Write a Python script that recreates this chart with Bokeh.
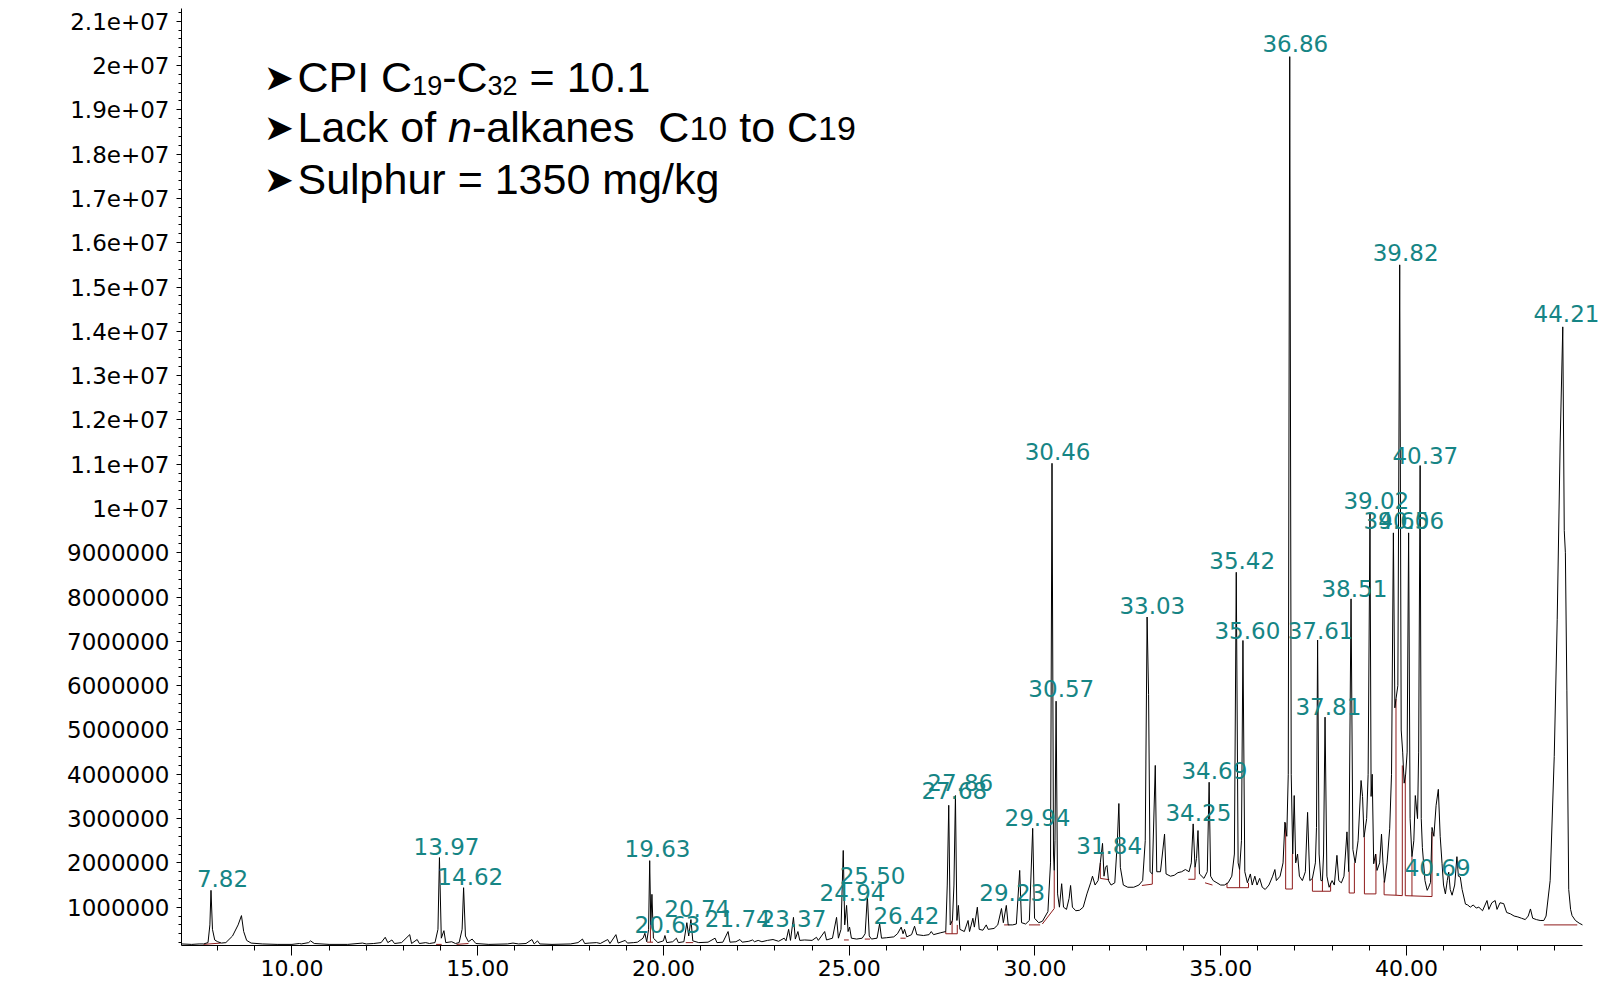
import numpy as np
from bokeh.plotting import figure
from bokeh.models import Range1d, FixedTicker, Label
from bokeh.core.properties import value
from bokeh.embed import file_html
from bokeh.resources import INLINE

# ---- chromatogram trace: (retention time [min], abundance [millions of counts]) ----
seg_early = [(7.03, 0.17), (7.3, 0.16), (7.5, 0.17), (7.62, 0.17), (7.74, 0.2), (7.79, 0.6), (7.82, 1.38),
             (7.86, 0.5), (7.92, 0.26), (8.0, 0.22), (8.1, 0.19), (8.22, 0.2), (8.4, 0.35), (8.55, 0.6),
             (8.64, 0.81), (8.7, 0.45), (8.78, 0.25), (8.9, 0.19), (9.2, 0.17), (9.6, 0.16), (10.0, 0.16),
             (10.2, 0.18), (10.25, 0.17), (10.45, 0.2), (10.5, 0.24), (10.6, 0.18), (11.0, 0.16), (11.5, 0.16),
             (11.9, 0.19), (12.0, 0.17), (12.2, 0.18), (12.4, 0.2), (12.51, 0.32), (12.58, 0.2), (12.69, 0.26),
             (12.76, 0.18), (12.95, 0.2), (13.17, 0.38), (13.22, 0.18), (13.37, 0.27), (13.43, 0.18),
             (13.6, 0.2), (13.7, 0.18), (13.85, 0.2), (13.93, 0.5), (13.97, 2.12), (14.02, 0.3), (14.09, 0.47),
             (14.14, 0.2), (14.3, 0.22), (14.4, 0.18), (14.5, 0.2), (14.58, 0.5), (14.62, 1.44), (14.67, 0.35),
             (14.75, 0.22), (14.85, 0.28), (14.95, 0.18), (15.3, 0.16), (15.8, 0.17), (15.95, 0.19),
             (16.1, 0.17), (16.3, 0.18), (16.46, 0.27), (16.52, 0.17), (16.61, 0.24), (16.67, 0.17),
             (17.0, 0.16), (17.5, 0.17), (17.7, 0.2), (17.82, 0.28), (17.88, 0.18), (18.0, 0.19), (18.2, 0.2),
             (18.3, 0.18), (18.5, 0.27), (18.56, 0.18), (18.72, 0.38), (18.78, 0.19), (18.97, 0.25),
             (19.03, 0.19), (19.2, 0.2)]
seg_mid = [(19.3, 0.21), (19.45, 0.3), (19.5, 0.41), (19.55, 0.22), (19.6, 0.5), (19.63, 2.05), (19.66, 0.6),
           (19.69, 1.29), (19.73, 0.3), (19.85, 0.2), (20.0, 0.24), (20.04, 0.36), (20.09, 0.2), (20.25, 0.22),
           (20.35, 0.3), (20.4, 0.2), (20.55, 0.22), (20.63, 0.65), (20.68, 0.35), (20.74, 0.72), (20.79, 0.24),
           (20.95, 0.2), (21.2, 0.21), (21.39, 0.3), (21.44, 0.2), (21.6, 0.21), (21.74, 0.45), (21.79, 0.21),
           (21.95, 0.22), (22.06, 0.27), (22.12, 0.21), (22.3, 0.23), (22.4, 0.26), (22.45, 0.22), (22.55, 0.25),
           (22.65, 0.22), (22.8, 0.25), (22.95, 0.27), (23.1, 0.23), (23.25, 0.3), (23.3, 0.24), (23.37, 0.5),
           (23.42, 0.25), (23.5, 0.77), (23.55, 0.28), (23.62, 0.45), (23.67, 0.25), (23.8, 0.26), (24.0, 0.25),
           (24.12, 0.32), (24.17, 0.25), (24.34, 0.45), (24.39, 0.26), (24.55, 0.3), (24.66, 0.77), (24.71, 0.3),
           (24.78, 0.5), (24.84, 2.28), (24.88, 0.6), (24.93, 1.04), (24.97, 0.45), (25.01, 0.55), (25.06, 0.3),
           (25.2, 0.28), (25.35, 0.3), (25.43, 0.4), (25.49, 1.26), (25.54, 0.35), (25.6, 0.28), (25.75, 0.3),
           (25.82, 0.63), (25.87, 0.3), (26.0, 0.31), (26.2, 0.33), (26.3, 0.4), (26.4, 0.55), (26.45, 0.4),
           (26.49, 0.5), (26.55, 0.33), (26.68, 0.38), (26.76, 0.57), (26.82, 0.38), (27.0, 0.36),
           (27.15, 0.38), (27.21, 0.45), (27.27, 0.38), (27.45, 0.42)]
seg_hump = [(27.6, 0.45), (27.64, 1.5), (27.68, 3.3), (27.72, 0.6), (27.78, 0.7), (27.82, 1.5), (27.86, 3.52),
            (27.9, 0.7), (27.94, 1.04), (27.98, 0.5), (28.1, 0.45), (28.2, 0.7), (28.24, 0.45), (28.33, 0.75),
            (28.37, 0.55), (28.45, 1.0), (28.5, 0.5), (28.6, 0.48), (28.69, 0.6), (28.74, 0.5), (28.9, 0.52),
            (29.0, 0.6), (29.1, 0.97), (29.15, 0.65), (29.23, 1.04), (29.28, 0.6), (29.4, 0.6), (29.5, 0.62),
            (29.59, 1.83), (29.64, 0.65), (29.75, 0.62), (29.85, 0.7), (29.94, 2.78), (29.99, 0.75),
            (30.1, 0.65), (30.2, 0.68), (30.35, 0.9), (30.42, 2.0), (30.46, 11.02), (30.5, 2.2), (30.52, 1.83),
            (30.54, 2.5), (30.57, 5.65), (30.61, 1.3), (30.66, 1.0), (30.72, 1.53), (30.77, 1.0), (30.85, 0.95),
            (30.92, 1.2), (30.96, 1.49), (31.01, 1.0), (31.1, 0.92), (31.2, 0.93), (31.3, 1.0), (31.4, 1.3),
            (31.5, 1.55), (31.55, 1.7), (31.62, 1.5), (31.7, 1.6), (31.76, 2.0), (31.82, 2.44), (31.86, 1.7),
            (31.9, 1.9), (31.94, 1.94), (31.98, 1.6), (32.05, 1.5), (32.15, 1.55), (32.22, 2.5), (32.26, 3.34),
            (32.3, 1.9), (32.38, 1.5), (32.5, 1.45), (32.66, 1.45), (32.8, 1.5), (32.9, 1.6), (32.97, 2.5),
            (33.02, 7.55), (33.06, 5.8), (33.1, 1.8), (33.16, 1.75), (33.24, 4.2), (33.28, 1.8), (33.38, 1.8),
            (33.49, 2.65), (33.53, 1.75)]
seg_late = [(33.65, 1.7), (33.75, 1.72), (33.85, 1.78), (33.95, 1.8), (34.05, 1.85), (34.15, 1.8), (34.21, 2.0),
            (34.26, 2.88), (34.31, 1.9), (34.35, 2.1), (34.39, 2.73), (34.43, 1.75), (34.55, 1.65), (34.64, 1.8),
            (34.69, 3.82), (34.73, 1.7), (34.8, 1.6), (34.9, 1.55), (35.0, 1.5), (35.1, 1.5), (35.2, 1.55),
            (35.3, 1.7), (35.37, 2.2), (35.42, 8.56), (35.47, 2.0), (35.51, 1.85), (35.56, 2.5), (35.6, 7.02),
            (35.65, 1.8), (35.72, 1.55), (35.8, 1.75), (35.85, 1.5), (35.92, 1.7), (35.98, 1.5), (36.05, 1.65),
            (36.12, 1.45), (36.2, 1.4), (36.3, 1.5), (36.4, 1.7), (36.46, 1.85), (36.5, 1.6), (36.6, 1.7),
            (36.68, 2.0), (36.73, 2.92), (36.78, 2.6), (36.82, 4.0), (36.86, 20.2), (36.9, 4.0), (36.94, 2.2),
            (36.98, 3.52), (37.02, 2.0), (37.07, 2.2), (37.12, 1.7), (37.2, 1.6), (37.28, 1.8), (37.34, 3.14),
            (37.4, 1.6), (37.47, 1.65), (37.55, 2.0), (37.58, 2.8), (37.61, 7.03), (37.65, 2.2), (37.7, 1.6),
            (37.74, 1.6), (37.77, 2.2), (37.81, 5.29), (37.86, 1.7), (37.92, 1.45), (38.0, 1.6), (38.06, 1.5),
            (38.13, 2.17), (38.18, 1.6), (38.25, 1.55), (38.32, 1.7), (38.4, 2.7), (38.45, 1.8)]
seg_end = [(38.51, 7.96), (38.56, 2.3), (38.62, 2.0), (38.7, 2.5), (38.78, 3.86), (38.82, 3.5), (38.86, 2.58),
           (38.93, 3.0), (38.97, 4.0), (39.02, 9.88), (39.05, 3.5), (39.08, 4.0), (39.12, 1.98), (39.17, 2.2),
           (39.21, 1.83), (39.28, 2.0), (39.33, 2.65), (39.37, 2.0), (39.41, 1.56), (39.48, 2.0), (39.55, 2.77),
           (39.6, 4.0), (39.65, 9.45), (39.69, 5.5), (39.72, 5.7), (39.77, 6.0), (39.82, 15.5), (39.86, 5.0),
           (39.9, 4.5), (39.94, 3.8), (39.98, 4.0), (40.02, 4.5), (40.06, 9.45), (40.1, 3.0), (40.15, 2.14),
           (40.2, 2.5), (40.24, 3.52), (40.3, 3.0), (40.33, 4.5), (40.37, 10.97), (40.4, 3.0), (40.43, 2.35),
           (40.5, 1.6), (40.56, 1.38), (40.6, 1.45), (40.65, 1.56), (40.69, 2.8), (40.74, 2.6), (40.8, 3.3),
           (40.86, 3.66), (40.91, 2.6), (40.96, 1.98), (41.0, 1.5), (41.05, 1.3), (41.1, 1.6), (41.14, 1.79),
           (41.18, 1.4), (41.23, 1.27), (41.3, 1.5), (41.36, 2.14), (41.4, 1.7), (41.45, 1.68), (41.5, 1.4),
           (41.59, 1.07), (41.65, 1.05), (41.72, 1.0), (41.8, 1.05), (41.88, 0.98), (41.95, 1.0), (42.05, 0.92),
           (42.17, 1.15), (42.22, 0.95), (42.3, 1.1), (42.39, 1.15), (42.44, 0.95), (42.52, 1.1), (42.62, 1.08),
           (42.7, 0.88), (42.8, 0.85), (42.9, 0.8), (43.0, 0.78), (43.1, 0.75), (43.2, 0.72), (43.28, 0.8),
           (43.34, 0.96), (43.4, 0.75), (43.5, 0.72), (43.6, 0.7), (43.7, 0.7), (43.76, 0.8), (43.87, 1.6),
           (43.98, 4.4), (44.06, 7.5), (44.14, 11.5), (44.21, 14.1), (44.25, 9.5), (44.28, 9.0), (44.32, 5.9),
           (44.37, 1.4), (44.42, 0.95), (44.46, 0.81), (44.55, 0.7), (44.65, 0.64), (44.74, 0.6)]

# ---- integration baselines (start, end, level at start, level at end) [min, millions] ----
baselines = [(7.62, 8.08, 0.16, 0.19), (13.88, 14.03, 0.16, 0.16), (14.43, 14.75, 0.16, 0.18),
             (19.56, 19.72, 0.21, 0.21), (20.6, 20.8, 0.2, 0.2), (24.86, 24.99, 0.26, 0.26),
             (25.42, 25.56, 0.28, 0.28), (26.38, 26.52, 0.3, 0.3), (27.6, 27.91, 0.4, 0.4),
             (29.17, 29.31, 0.6, 0.6), (29.84, 30.14, 0.6, 0.6), (30.2, 30.52, 0.62, 0.97),
             (31.76, 32.0, 1.65, 1.62), (32.88, 33.16, 1.49, 1.52), (34.13, 34.31, 1.63, 1.63),
             (34.58, 34.78, 1.55, 1.5), (35.17, 35.75, 1.44, 1.44), (36.75, 36.93, 1.41, 1.41),
             (37.47, 37.96, 1.36, 1.36), (38.46, 38.6, 1.32, 1.32), (38.87, 39.18, 1.3, 1.3),
             (39.4, 39.72, 1.28, 1.27), (39.72, 39.89, 1.27, 1.26), (39.97, 40.69, 1.26, 1.24),
             (43.7, 44.6, 0.6, 0.6)]
# drop lines (time, baseline level, trace level) [min, millions]
drops = [(19.65, 0.21, 0.6), (27.6, 0.4, 0.45), (27.77, 0.4, 0.7), (27.91, 0.4, 0.6), (30.52, 0.97, 1.83),
         (31.76, 1.65, 2.0), (33.16, 1.52, 1.75), (34.31, 1.63, 1.9), (35.17, 1.44, 1.55), (35.51, 1.44, 1.85),
         (35.75, 1.44, 1.55), (36.75, 1.41, 2.9), (36.93, 1.41, 2.2), (37.47, 1.36, 1.65), (37.74, 1.36, 1.6),
         (37.96, 1.36, 1.55), (38.46, 1.32, 1.8), (38.6, 1.32, 2.0), (38.87, 1.3, 2.58), (39.18, 1.3, 2.2),
         (39.4, 1.28, 1.6), (39.72, 1.27, 5.7), (39.89, 1.26, 4.2), (39.97, 1.26, 4.0), (40.15, 1.25, 2.14),
         (40.69, 1.24, 2.7)]

# ---- peak retention-time labels and their anchor (time, millions) ----
peak_labels = ["7.82", "13.97", "14.62", "19.63", "20.74", "20.63", "21.74", "23.37", "24.94", "25.50",
               "26.42", "27.86", "27.68", "29.94", "29.23", "30.46", "30.57", "31.84", "33.03", "34.69",
               "34.25", "35.42", "35.60", "37.61", "36.86", "37.81", "38.51", "39.02", "39.65", "40.06",
               "39.82", "40.37", "40.69", "44.21"]
label_t = [8.13, 14.16, 14.80, 19.84, 20.91, 20.11, 22.00, 23.50, 25.09, 25.63,
           26.54, 27.99, 27.83, 30.07, 29.39, 30.61, 30.71, 32.00, 33.16, 34.83,
           34.40, 35.58, 35.72, 37.69, 37.01, 37.90, 38.60, 39.19, 39.73, 40.13,
           39.98, 40.51, 40.84, 44.31]
label_v = [1.65, 2.37, 1.69, 2.33, 0.97, 0.61, 0.74, 0.74, 1.33, 1.72,
           0.81, 3.81, 3.63, 3.02, 1.33, 11.29, 5.94, 2.39, 7.81, 4.09,
           3.14, 8.83, 7.25, 7.25, 20.5, 5.53, 8.19, 10.18, 9.73, 9.73,
           15.78, 11.20, 1.90, 14.40]

# ---- axes ----
t_first, t_last = 7.026, 44.74          # recorded time span (axis extent)
x_ticks = [10, 15, 20, 25, 30, 35, 40]
x_tick_labels = ["10.00", "15.00", "20.00", "25.00", "30.00", "35.00", "40.00"]
y_ticks = [1e6 * k for k in range(1, 22)]
y_tick_labels = ["1000000", "2000000", "3000000", "4000000", "5000000", "6000000", "7000000",
                 "8000000", "9000000", "1e+07", "1.1e+07", "1.2e+07", "1.3e+07", "1.4e+07",
                 "1.5e+07", "1.6e+07", "1.7e+07", "1.8e+07", "1.9e+07", "2e+07", "2.1e+07"]

MIL = 1e6
trace = seg_early + seg_mid + seg_hump + seg_late + seg_end
rt = np.array([q[0] for q in trace])
ab = np.array([q[1] for q in trace]) * MIL

# frame extends past the recorded span so the last peak label is not clipped;
# the x axis line itself is bounded to the recorded span
p = figure(width=1620, height=980, output_backend="svg", toolbar_location=None,
           x_range=Range1d(t_first, 45.71), y_range=Range1d(0.135e6, 21.287e6),
           min_border_left=181, min_border_right=2, min_border_top=8, min_border_bottom=35)
p.outline_line_color = None
p.grid.visible = False

RED = "#8e1b1b"
p.segment(x0=[b[0] for b in baselines], y0=[b[2] * MIL for b in baselines],
          x1=[b[1] for b in baselines], y1=[b[3] * MIL for b in baselines],
          line_color=RED, line_width=1)
p.segment(x0=[d[0] for d in drops], y0=[d[1] * MIL for d in drops],
          x1=[d[0] for d in drops], y1=[d[2] * MIL for d in drops],
          line_color=RED, line_width=1)

p.line(rt, ab, line_color="black", line_width=1)

for txt, t, v in zip(peak_labels, label_t, label_v):
    p.add_layout(Label(x=t, y=v * MIL, text=txt, text_font="DejaVu Sans", text_font_size="23px",
                       text_color="#168585", text_align="center", text_baseline="middle"))

# annotation block
ANN = value("Liberation Sans")
def put(xs, ys, texts, size, font=ANN, style="normal"):
    p.text(x=xs, y=ys, text=texts, text_font=font, text_font_size=value(size),
           text_color="black", text_align="left", text_baseline="alphabetic", text_font_style=style)

put([9.24, 9.24, 9.24], [19.73e6, 18.61e6, 17.43e6], ["\u27a4", "\u27a4", "\u27a4"], "36px",
    font=value("DejaVu Sans"))
put([10.148, 14.043, 16.396], [19.73e6] * 3, ["CPI C", "-C", "= 10.1"], "43px")
put([13.236, 15.266], [19.55e6] * 2, ["19", "32"], "27px")
put([10.148, 14.846, 19.863, 22.041, 23.327], [18.61e6] * 5, ["Lack of", "-alkanes", "C", "to", "C"], "43px")
put([14.202], [18.61e6], ["n"], "43px", style="italic")
put([20.70, 24.162], [18.57e6] * 2, ["10", "19"], "34px")
put([10.148], [17.43e6], ["Sulphur = 1350 mg/kg"], "43px")

xa = p.xaxis[0]
xa.bounds = (t_first, t_last)
xa.ticker = FixedTicker(ticks=x_ticks, minor_ticks=list(range(8, 45)))
xa.major_label_overrides = {t: s for t, s in zip(x_ticks, x_tick_labels)}
xa.major_tick_out = 10
xa.major_tick_in = 0
xa.minor_tick_out = 5
xa.minor_tick_in = 0
xa.major_label_standoff = 4
xa.major_label_text_font = "DejaVu Sans"
xa.major_label_text_font_size = "22px"
xa.major_label_text_color = "black"
xa.axis_line_color = "black"

ya = p.yaxis[0]
ya.ticker = FixedTicker(ticks=y_ticks, minor_ticks=[2e5 * k for k in range(1, 107)])
ya.major_label_overrides = {t: s for t, s in zip(y_ticks, y_tick_labels)}
ya.major_tick_out = 5
ya.major_tick_in = 0
ya.minor_tick_out = 3
ya.minor_tick_in = 0
ya.major_label_standoff = 7
ya.major_label_text_font = "DejaVu Sans"
ya.major_label_text_font_size = "23px"
ya.major_label_text_color = "black"
ya.axis_line_color = "black"

open("out.html", "w").write(file_html(p, INLINE))
